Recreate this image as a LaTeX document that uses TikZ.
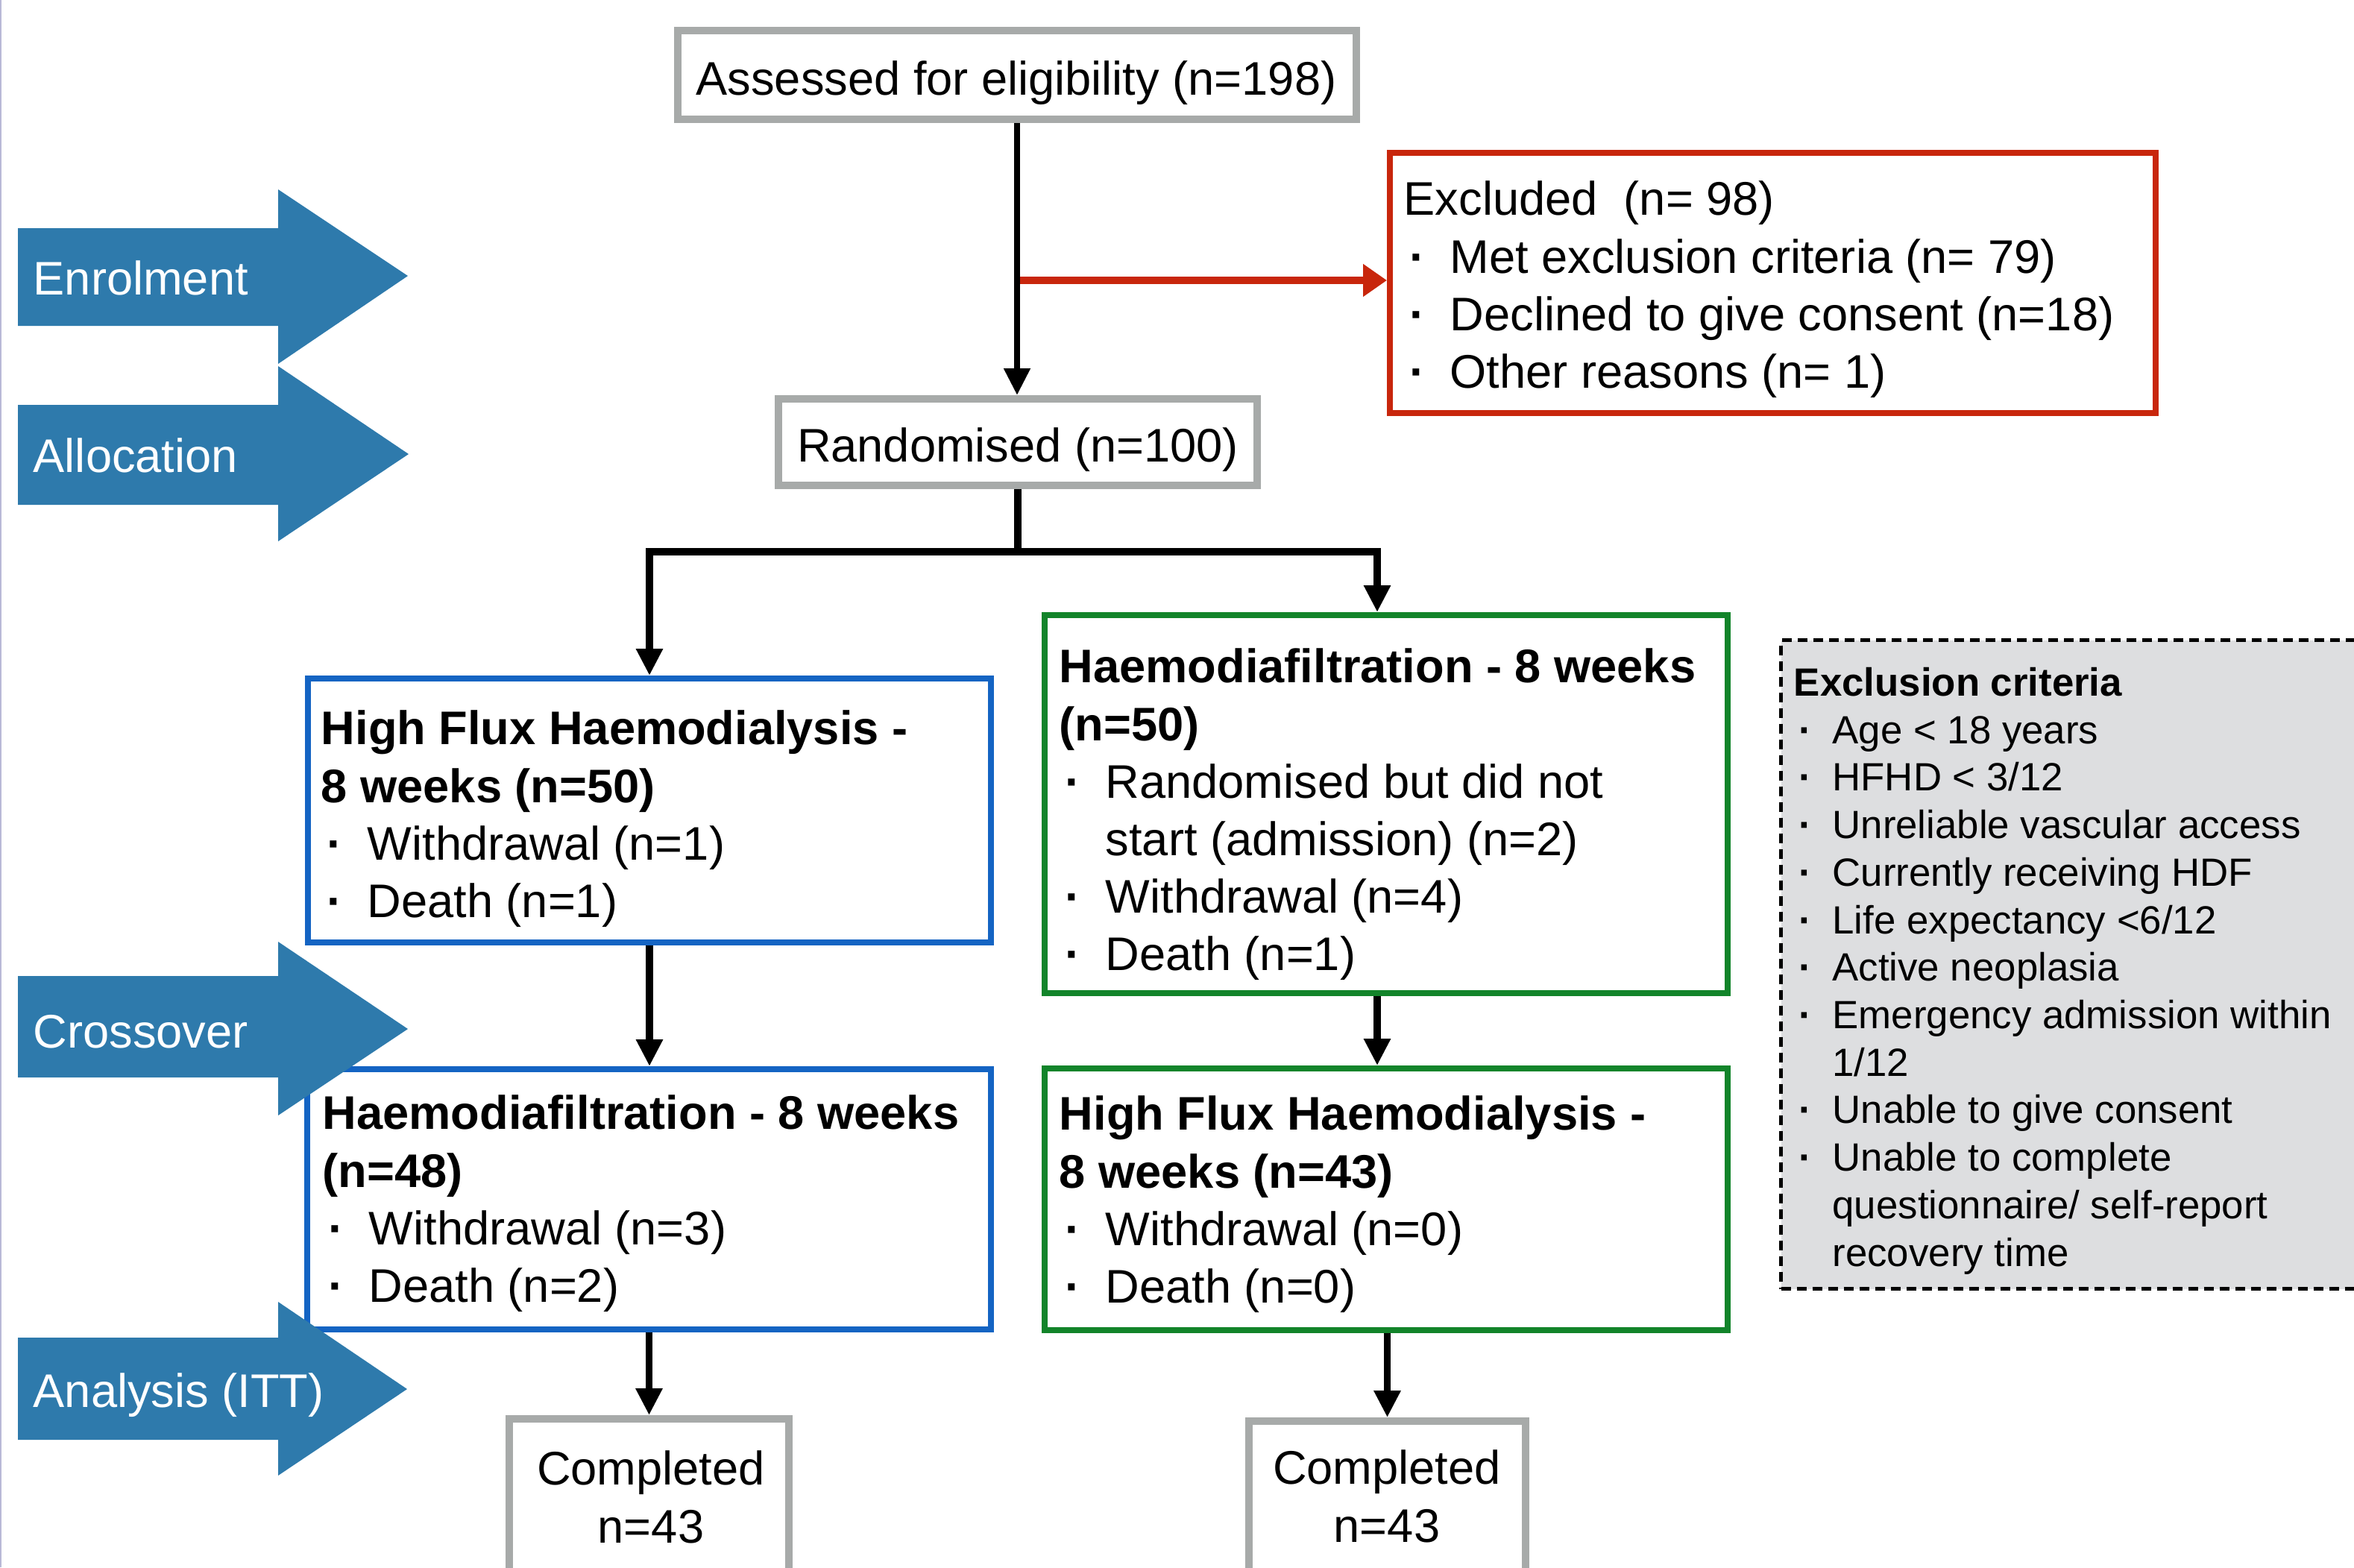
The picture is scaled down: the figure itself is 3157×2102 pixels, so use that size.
\documentclass[tikz,border=0pt]{standalone}
\usepackage{fontspec}
\setmainfont{Liberation Sans}
\usetikzlibrary{arrows.meta}
\definecolor{arrowblue}{RGB}{46,122,172}
\definecolor{boxblue}{RGB}{20,100,195}
\definecolor{boxgreen}{RGB}{18,132,42}
\definecolor{boxred}{RGB}{200,38,12}
\definecolor{boxgray}{RGB}{167,170,169}
\definecolor{critgray}{RGB}{221,222,224}
\definecolor{edgeline}{RGB}{185,185,215}
\newcommand\myitem{\makebox[0.98em][l]{\hspace*{0.12em}\textbf{·}}}
\newcommand\myhang{\hspace*{0.98em}}
\begin{document}
\begin{tikzpicture}[x=0.25pt,y=-0.25pt,
  graybox/.style={draw=boxgray, line width=2.5pt, inner sep=0pt},
  bluebox/.style={draw=boxblue, line width=2pt, inner sep=0pt},
  greenbox/.style={draw=boxgreen, line width=2pt, inner sep=0pt},
  redbox/.style={draw=boxred, line width=2pt, inner sep=0pt},
  critbox/.style={draw=black, line width=1.25pt, dash pattern=on 3.25pt off 2pt, fill=critgray, inner sep=0pt},
  txt/.style={inner sep=0pt, font=\fontsize{15.8}{19.3}\selectfont, align=left, anchor=north west},
  smalltxt/.style={inner sep=0pt, font=\fontsize{13.2}{15.93}\selectfont, align=left, anchor=north west},
  ctxt/.style={inner sep=0pt, font=\fontsize{15.8}{19.3}\selectfont, anchor=base},
  comptxt/.style={inner sep=0pt, font=\fontsize{15.8}{19.3}\selectfont, align=center, anchor=north},
  stagetxt/.style={inner sep=0pt, text=white, font=\fontsize{15.8}{19.3}\selectfont, anchor=base west},
  conn/.style={line width=2.4pt, -{Triangle[length=9pt,width=8.5pt]}},
  redconn/.style={draw=boxred, line width=2.5pt, -{Triangle[length=8pt,width=10.5pt]}}]
\path[use as bounding box] (0,0) rectangle (3157,2102);
\clip (0,0) rectangle (3157,2102);
\fill[white] (0,0) rectangle (3157,2102);
\draw[edgeline, line width=0.5pt] (1,0) -- (1,2102);

% boxes
\node[graybox, minimum width=227.5pt, minimum height=29.75pt] (assess) at (1364,100.5) {};
\node[graybox, minimum width=160.5pt, minimum height=29pt] (rand) at (1365,593) {};
\node[redbox, minimum width=256.75pt, minimum height=87.25pt] (excl) at (2377.5,379.5) {};
\node[bluebox, minimum width=229pt, minimum height=88.5pt] (hd1) at (871,1087) {};
\node[greenbox, minimum width=229pt, minimum height=126.75pt] (hdf1) at (1859,1078.5) {};
\node[bluebox, minimum width=229.25pt, minimum height=87.25pt] (hdf2) at (870.5,1608.5) {};
\node[greenbox, minimum width=229pt, minimum height=87.75pt] (hd2) at (1859,1608.5) {};
\node[graybox, minimum width=93.75pt, minimum height=59.25pt] (comp1) at (870.5,2021.5) {};
\node[graybox, minimum width=92.75pt, minimum height=59.25pt] (comp2) at (1860.5,2024.5) {};
\node[critbox, minimum width=202.75pt, minimum height=217.5pt] (crit) at (2794,1293.5) {};

% texts
\node[ctxt] (t-assess) at (1363,127) {Assessed for eligibility (n=198)};
\node[ctxt] (t-rand) at (1365,619) {Randomised (n=100)};
\node[txt] (t-excl) at (1882,234) {\strut Excluded\ \ (n= 98)\\
\myitem Met exclusion criteria (n= 79)\\
\myitem Declined to give consent (n=18)\\
\myitem Other reasons (n= 1)};
\node[txt] (t-hd1) at (430,944) {\strut\textbf{High Flux Haemodialysis -}\\
\textbf{8 weeks (n=50)}\\
\myitem Withdrawal (n=1)\\
\myitem Death (n=1)};
\node[txt] (t-hdf1) at (1420,861) {\strut\textbf{Haemodiafiltration - 8 weeks}\\
\textbf{(n=50)}\\
\myitem Randomised but did not\\
\myhang start (admission) (n=2)\\
\myitem Withdrawal (n=4)\\
\myitem Death (n=1)};
\node[txt] (t-hdf2) at (432,1460) {\strut\textbf{Haemodiafiltration - 8 weeks}\\
\textbf{(n=48)}\\
\myitem Withdrawal (n=3)\\
\myitem Death (n=2)};
\node[txt] (t-hd2) at (1420,1461) {\strut\textbf{High Flux Haemodialysis -}\\
\textbf{8 weeks (n=43)}\\
\myitem Withdrawal (n=0)\\
\myitem Death (n=0)};
\node[comptxt] (t-comp1) at (873,1937) {\strut Completed\\n=43};
\node[comptxt] (t-comp2) at (1860,1936) {\strut Completed\\n=43};
\node[smalltxt] (t-crit) at (2405,888) {\strut\textbf{Exclusion criteria}\\
\myitem Age < 18 years\\
\myitem HFHD < 3/12\\
\myitem Unreliable vascular access\\
\myitem Currently receiving HDF\\
\myitem Life expectancy <6/12\\
\myitem Active neoplasia\\
\myitem Emergency admission within\\
\myhang 1/12\\
\myitem Unable to give consent\\
\myitem Unable to complete\\
\myhang questionnaire/ self-report\\
\myhang recovery time};

% connectors
\coordinate (split) at (1364,376);
\draw[redconn] (split) -- (split -| excl.west);
\draw[line width=2pt, -{Triangle[length=9pt,width=8.5pt]}] (assess.south) -- (assess.south |- rand.north);
\coordinate (bj) at (1365,740);
\draw[line width=2.4pt] (rand.south) -- (bj);
\draw[conn] (bj) -| (hd1.north);
\draw[conn] (bj) -| ([xshift=-3pt]hdf1.north);
\draw[conn] (hd1.south) -- (hd1.south |- hdf2.north);
\draw[conn] ([xshift=-3pt]hdf1.south) -- ([xshift=-3pt]hdf1.south |- hd2.north);
\draw[conn] (hdf2.south) -- (hdf2.south |- comp1.north);
\draw[conn] (comp2.north |- hd2.south) -- (comp2.north);

% stage arrows
\fill[arrowblue] (24,306) -- (373,306) -- (373,254) -- (547,370) -- (373,488) -- (373,437) -- (24,437) -- cycle;
\fill[arrowblue] (24,543) -- (373,543) -- (373,491) -- (548,609) -- (373,726) -- (373,677) -- (24,677) -- cycle;
\fill[arrowblue] (24,1309) -- (373,1309) -- (373,1263) -- (547,1380) -- (373,1496) -- (373,1445) -- (24,1445) -- cycle;
\fill[arrowblue] (24,1794) -- (373,1794) -- (373,1746) -- (546,1863) -- (373,1979) -- (373,1931) -- (24,1931) -- cycle;
\node[stagetxt] (s-enrol) at (44,395) {Enrolment};
\node[stagetxt] (s-alloc) at (44,633) {Allocation};
\node[stagetxt] (s-cross) at (44,1405) {Crossover};
\node[stagetxt] (s-anal) at (44,1887) {Analysis (ITT)};
\end{tikzpicture}
\end{document}
